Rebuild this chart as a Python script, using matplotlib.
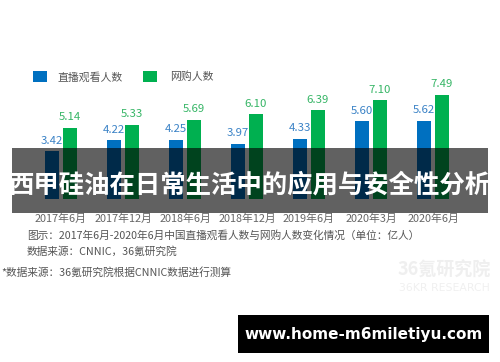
import matplotlib
matplotlib.use("Agg")
import matplotlib.pyplot as plt
from matplotlib.patches import Rectangle
import numpy as np

plt.rcParams['font.family'] = ['Noto Sans CJK SC', 'DejaVu Sans']

categories = ["2017年6月", "2017年12月", "2018年6月", "2018年12月", "2019年6月", "2020年3月", "2020年6月"]
live_viewers = [3.42, 4.22, 4.25, 3.97, 4.33, 5.60, 5.62]
online_shoppers = [5.14, 5.33, 5.69, 6.10, 6.39, 7.10, 7.49]
series_names = ["直播观看人数", "网购人数"]

W, H = 500, 362
fig = plt.figure(figsize=(W / 100, H / 100), dpi=100)
fig.patch.set_facecolor("white")

def fx(x):
    return x / W

def fy(y):
    return 1 - y / H

# axes: x from 30px to 464px, y baseline at 199px, top at 60px (0..10)
ax = fig.add_axes([fx(30), fy(199), fx(434), (199 - 60) / H])
ax.set_xlim(-0.5, len(categories) - 0.5)
ax.set_ylim(0, 10)
for s in ax.spines.values():
    s.set_visible(False)
ax.set_yticks([])

blue = "#0070C0"
green = "#00B050"
x = np.arange(len(categories))
bw = 0.226
off = 0.145
b1 = ax.bar(x - off, live_viewers, bw, color=blue)
b2 = ax.bar(x + off, online_shoppers, bw, color=green)
ax.bar_label(b1, labels=[f"{v:.2f}" for v in live_viewers], padding=4,
             color="#3a82c6", fontsize=8.2)
ax.bar_label(b2, labels=[f"{v:.2f}" for v in online_shoppers], padding=4,
             color="#35b565", fontsize=8.2)

ax.set_xticks(x)
ax.set_xticklabels(categories, fontsize=7.8, color="#666666")
ax.tick_params(axis="x", length=0, pad=10.5)

# legend (manual)
fig.add_artist(Rectangle((fx(33), fy(82)), fx(14), 11 / H, transform=fig.transFigure,
                         facecolor=blue, edgecolor="none"))
fig.text(fx(58), fy(77), series_names[0], fontsize=7.8, color="#555555", va="center", ha="left")
fig.add_artist(Rectangle((fx(143), fy(82)), fx(14), 11 / H, transform=fig.transFigure,
                         facecolor=green, edgecolor="none"))
fig.text(fx(170), fy(77), series_names[1], fontsize=7.8, color="#555555", va="center", ha="left")

# captions
fig.text(fx(27), fy(235), "图示：2017年6月-2020年6月中国直播观看人数与网购人数变化情况（单位：亿人）",
         fontsize=7.7, color="#555555", va="center", ha="left")
fig.text(fx(27), fy(251), "数据来源：CNNIC，36氪研究院",
         fontsize=7.7, color="#555555", va="center", ha="left")
fig.text(fx(1), fy(272), "*数据来源：36氪研究院根据CNNIC数据进行测算",
         fontsize=7.7, color="#555555", va="center", ha="left")

# watermark
fig.text(fx(444), fy(270), "36氪研究院", fontsize=13, fontweight="bold", color="#efefef",
         va="center", ha="center")
fig.text(fx(444), fy(288), "36KR RESEARCH", fontsize=7.8, color="#f0f0f0",
         va="center", ha="center", family=["DejaVu Sans"])

# dark overlay band with title
band = Rectangle((fx(12), fy(213)), fx(476), (213 - 148) / H, transform=fig.transFigure,
                 facecolor="black", alpha=0.62, edgecolor="none", zorder=5)
fig.add_artist(band)
t = fig.text(fx(250), fy(185), "西甲硅油在日常生活中的应用与安全性分析", fontsize=18.3,
             fontweight="bold", color="white", va="center", ha="center", zorder=6)

# url box
fig.add_artist(Rectangle((fx(238), fy(353)), fx(251), (353 - 315) / H, transform=fig.transFigure,
                         facecolor="black", edgecolor="none", zorder=5))
fig.text(fx(363.5), fy(334), "www.home-m6miletiyu.com", fontsize=11, fontweight="bold",
         color="white", va="center", ha="center", zorder=6, family=["DejaVu Sans"])

fig.savefig("out.png", dpi=100)
